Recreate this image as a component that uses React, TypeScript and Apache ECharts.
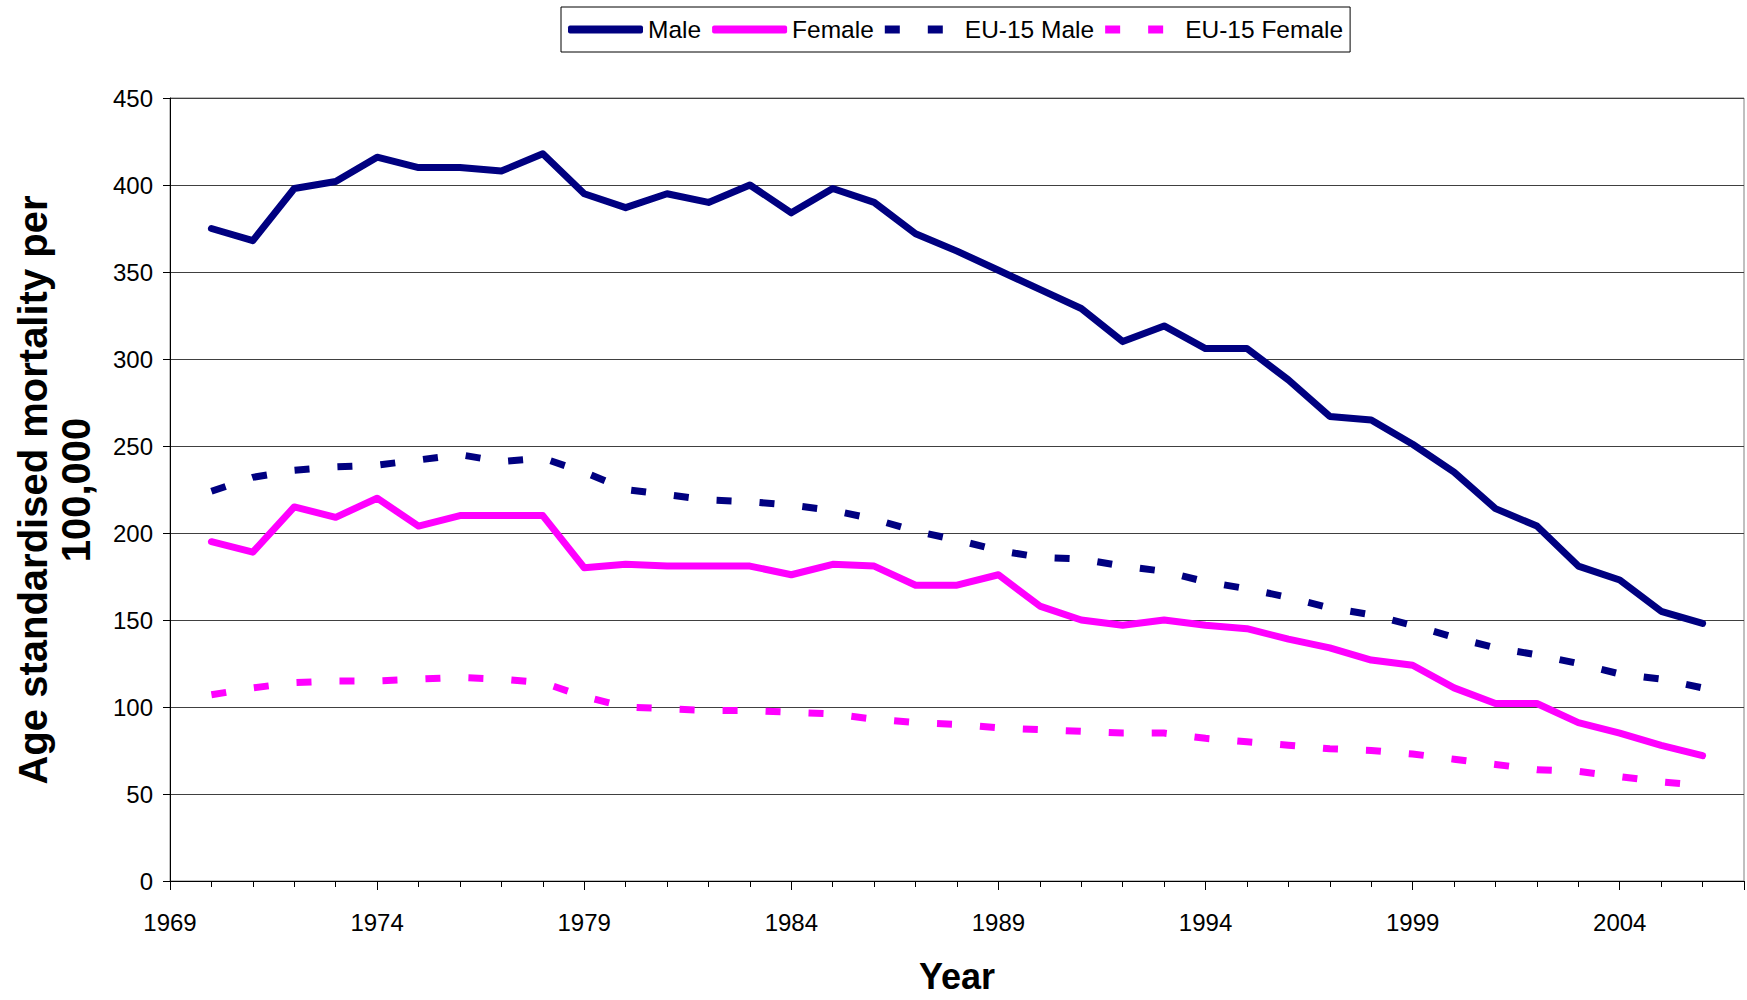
import React, { useEffect, useRef } from "react";
import * as echarts from "echarts";

const years = [
  1970, 1971, 1972, 1973, 1974, 1975, 1976, 1977, 1978, 1979,
  1980, 1981, 1982, 1983, 1984, 1985, 1986, 1987, 1988, 1989,
  1990, 1991, 1992, 1993, 1994, 1995, 1996, 1997, 1998, 1999,
  2000, 2001, 2002, 2003, 2004, 2005, 2006,
];
const male = [
  375, 368, 398, 402, 416, 410, 410, 408, 418, 395,
  387, 395, 390, 400, 384, 398, 390, 372, 362, 351,
  340, 329, 310, 319, 306, 306, 288, 267, 265, 251,
  235, 214, 204, 181, 173, 155, 148,
];
const female = [
  195, 189, 215, 209, 220, 204, 210, 210, 210, 180,
  182, 181, 181, 181, 176, 182, 181, 170, 170, 176,
  158, 150, 147, 150, 147, 145, 139, 134, 127, 124,
  111, 102, 102, 91, 85, 78, 72,
];
const eu15Male = [
  224, 232, 236, 238, 239, 242, 245, 241, 243, 235,
  225, 222, 219, 218, 216, 213, 208, 201, 196, 190,
  186, 185, 181, 178, 172, 168, 163, 157, 153, 147,
  140, 134, 130, 125, 119, 116, 111,
];
const eu15Female = [
  107, 111, 114, 115, 115, 116, 117, 116, 114, 106,
  100, 99, 98, 98, 97, 96, 93, 91, 90, 88,
  87, 86, 85, 85, 82, 80, 78, 76, 75, 73,
  70, 67, 64, 63, 60, 57, 55,
];
const seriesNames = ["Male", "Female", "EU-15 Male", "EU-15 Female"];
const yTitle = "Age standardised mortality per\n100,000";
const xTitle = "Year";

const SANS = "'Liberation Sans', Arial, sans-serif";
const NAVY = "#000080";
const MAGENTA = "#FF00FF";
const DASH_ICON = "path://M0,0H15V8H0Z M43,0H58V8H43Z M75,0L75,8";

function pairs(vals: number[]) {
  return years.map((y, i) => [y, vals[i]]);
}

export default function App() {
  const ref = useRef<HTMLDivElement>(null);
  useEffect(() => {
    if (!ref.current) return;
    const chart = echarts.init(ref.current, undefined, { renderer: "svg" });
    const solid = (name: string, color: string, vals: number[]) => ({
      name,
      type: "line",
      data: pairs(vals),
      symbol: "none",
      showSymbol: false,
      color,
      itemStyle: { color },
      lineStyle: { color, width: 7, cap: "round", join: "round" },
      xAxisIndex: 0,
      yAxisIndex: 0,
    });
    const dashed = (name: string, color: string, vals: number[]) => ({
      name,
      type: "line",
      data: pairs(vals),
      symbol: "none",
      showSymbol: false,
      color,
      itemStyle: { color },
      lineStyle: { color, width: 7, type: [15, 28], cap: "butt", join: "miter" },
      xAxisIndex: 0,
      yAxisIndex: 0,
    });
    chart.setOption({
      animation: false,
      backgroundColor: "#ffffff",
      grid: {
        left: 170,
        right: 3,
        top: 98,
        bottom: 119,
        show: true,
        borderColor: "#808080",
        borderWidth: 1,
      },
      legend: {
        data: [
          { name: seriesNames[0], icon: "roundRect" },
          { name: seriesNames[1], icon: "roundRect" },
          { name: seriesNames[2], icon: DASH_ICON },
          { name: seriesNames[3], icon: DASH_ICON },
        ],
        left: 561,
        top: 7,
        padding: [10, 7, 10, 7],
        itemWidth: 75,
        itemHeight: 8,
        itemGap: 11,
        borderColor: "#000",
        borderWidth: 1,
        itemStyle: { borderWidth: 0 },
        textStyle: { fontFamily: SANS, fontSize: 24.5, color: "#000" },
      },
      xAxis: [
        {
          type: "value",
          min: 1969,
          max: 2007,
          interval: 1,
          splitLine: { show: false },
          axisLine: { show: true, lineStyle: { color: "#000", width: 1 } },
          axisTick: { show: true, length: 6, lineStyle: { color: "#000" } },
          axisLabel: {
            margin: 29,
            fontFamily: SANS,
            fontSize: 24,
            color: "#000",
            showMaxLabel: false,
            formatter: (v: number) => ((v - 1969) % 5 === 0 ? String(v) : ""),
          },
          name: xTitle,
          nameLocation: "middle",
          nameGap: 77,
          nameTextStyle: { fontFamily: SANS, fontWeight: "bold", fontSize: 36, color: "#000" },
        },
        {
          type: "value",
          min: 1969,
          max: 2007,
          interval: 5,
          position: "bottom",
          splitLine: { show: false },
          axisLine: { show: false },
          axisTick: { show: true, length: 9, lineStyle: { color: "#000" } },
          axisLabel: { show: false },
        },
      ],
      yAxis: {
        type: "value",
        min: 0,
        max: 450,
        interval: 50,
        axisLine: { show: true, lineStyle: { color: "#000", width: 1 } },
        axisTick: { show: true, length: 7, lineStyle: { color: "#000" } },
        splitLine: { show: true, lineStyle: { color: "#404040", width: 1 } },
        axisLabel: { margin: 17, fontFamily: SANS, fontSize: 24, color: "#000" },
      },
      graphic: [
        {
          type: "text",
          x: 54,
          y: 490,
          rotation: Math.PI / 2,
          style: {
            text: yTitle,
            align: "center",
            verticalAlign: "middle",
            fontFamily: SANS,
            fontWeight: "bold",
            fontSize: 40,
            lineHeight: 43,
            fill: "#000",
          },
        },
      ],
      series: [
        solid(seriesNames[0], NAVY, male),
        solid(seriesNames[1], MAGENTA, female),
        dashed(seriesNames[2], NAVY, eu15Male),
        dashed(seriesNames[3], MAGENTA, eu15Female),
      ],
    });
    return () => chart.dispose();
  }, []);
  return (
    <div
      ref={ref}
      style={{ position: "absolute", left: 0, top: 0, width: 1747, height: 1000 }}
    />
  );
}
